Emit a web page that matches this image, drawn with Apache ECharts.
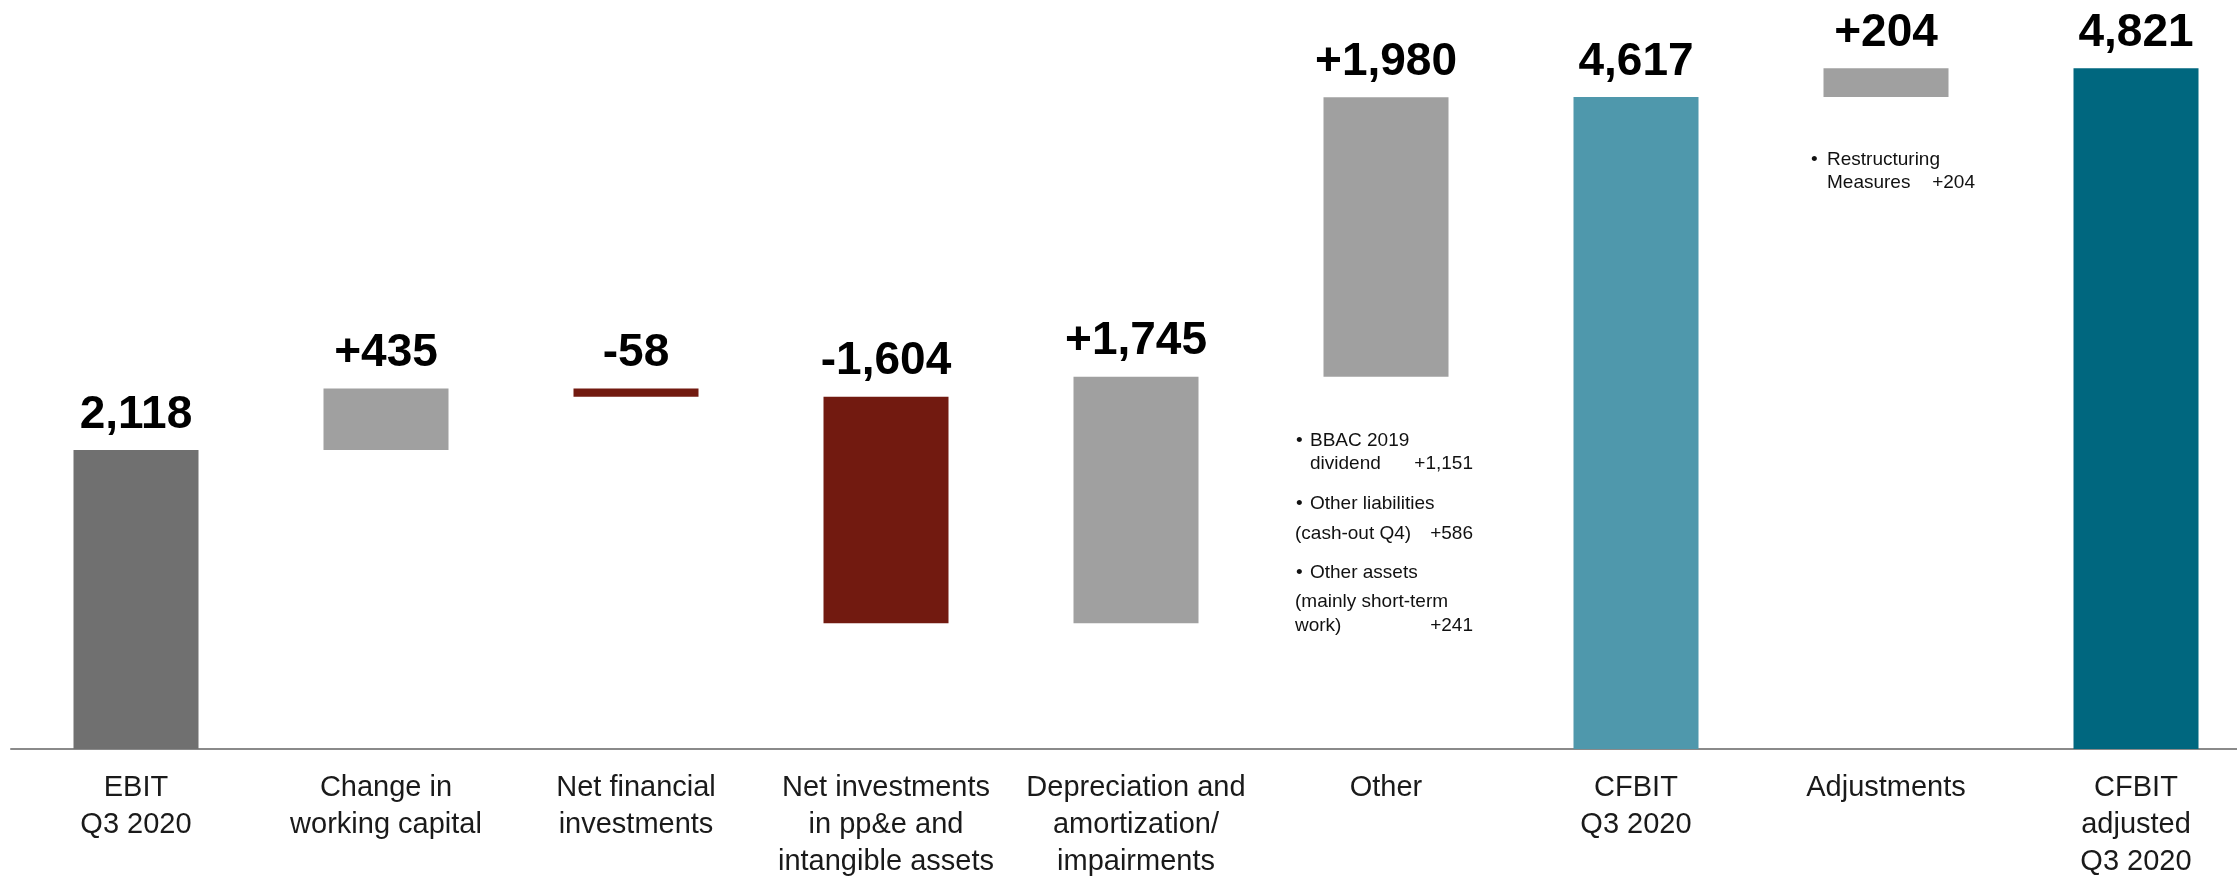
<!DOCTYPE html>
<html>
<head>
<meta charset="utf-8">
<script src="https://cdn.jsdelivr.net/npm/echarts@6/dist/echarts.min.js"></script>
<style>
  html, body { margin: 0; padding: 0; background: #fff; }
  #chart { width: 2237px; height: 876px; }
</style>
</head>
<body>
<div id="chart"></div>
<script>
// Cash flow bridge: EBIT -> CFBIT -> CFBIT adjusted (Q3 2020, in millions)
const categories = [
  'EBIT\nQ3 2020',
  'Change in\nworking capital',
  'Net financial\ninvestments',
  'Net investments\nin pp&e and\nintangible assets',
  'Depreciation and\namortization/\nimpairments',
  'Other',
  'CFBIT\nQ3 2020',
  'Adjustments',
  'CFBIT\nadjusted\nQ3 2020'
];
const values = [2118, 435, -58, -1604, 1745, 1980, 4617, 204, 4821];
// 'total' bars start at zero, 'delta' bars float on the running total
const kinds = ['total', 'delta', 'delta', 'delta', 'delta', 'delta', 'total', 'delta', 'total'];
const totalColors = ['#707070', null, null, null, null, null, '#4f98ac', null, '#00677f'];
const upColor = '#a0a0a0';
const downColor = '#721a10';

// Breakdown notes: [text, amount]
const otherNotes = [
  ['BBAC 2019', ''],
  ['dividend', '+1,151'],
  ['Other liabilities', ''],
  ['(cash-out Q4)', '+586'],
  ['Other assets', ''],
  ['(mainly short-term', ''],
  ['work)', '+241']
];
const otherBullets = [true, false, true, false, true, false, false];
const otherIndent = [true, true, true, false, true, false, false];
const adjustmentNotes = [
  ['Restructuring', ''],
  ['Measures', '+204']
];

function fmt(v) {
  return Math.abs(v).toLocaleString('en-US');
}

const baseData = [];
const barData = [];
let running = 0;
values.forEach((v, i) => {
  if (kinds[i] === 'total') {
    running = v;
    baseData.push(0);
    barData.push({
      value: v,
      itemStyle: { color: totalColors[i] },
      label: { formatter: fmt(v) }
    });
  } else {
    const start = running;
    const end = running + v;
    running = end;
    baseData.push(Math.min(start, end));
    barData.push({
      value: Math.abs(v),
      itemStyle: { color: v >= 0 ? upColor : downColor },
      label: { formatter: (v >= 0 ? '+' : '-') + fmt(v) }
    });
  }
});

const chart = echarts.init(document.getElementById('chart'));

const noteFont = {
  fontFamily: 'Liberation Sans, Arial, sans-serif',
  fontSize: 19,
  fill: '#111',
  verticalAlign: 'middle'
};

// Builds the text blocks of a breakdown note: bullets, descriptions, right-aligned amounts
function noteBlock(notes, bullets, indents, box) {
  const out = [];
  notes.forEach((n, k) => {
    const y = box.ys[k];
    if (bullets[k]) {
      out.push({ type: 'text', x: box.bulletX, y: y,
        style: Object.assign({ text: '•', align: 'left' }, noteFont) });
    }
    out.push({ type: 'text', x: indents[k] ? box.textX : box.outdentX, y: y,
      style: Object.assign({ text: n[0], align: 'left' }, noteFont) });
    if (n[1]) {
      out.push({ type: 'text', x: box.amountX, y: y,
        style: Object.assign({ text: n[1], align: 'right' }, noteFont) });
    }
  });
  return out;
}

chart.setOption({
  animation: false,
  backgroundColor: '#ffffff',
  grid: { left: 11, right: -24, top: 43, bottom: 127, outerBoundsMode: 'none' },
  xAxis: {
    type: 'category',
    data: categories,
    axisLine: { lineStyle: { color: '#8a8a8a', width: 2 } },
    axisTick: { show: false },
    axisLabel: {
      interval: 0,
      margin: 20,
      color: '#1a1a1a',
      fontFamily: 'Liberation Sans, Arial, sans-serif',
      fontSize: 29,
      lineHeight: 37
    }
  },
  yAxis: {
    type: 'value',
    min: 0,
    max: 5000,
    show: false,
    splitLine: { show: false }
  },
  series: [
    {
      type: 'bar',
      stack: 'bridge',
      data: baseData,
      barWidth: 125,
      itemStyle: { color: 'transparent' },
      silent: true
    },
    {
      type: 'bar',
      stack: 'bridge',
      data: barData,
      barWidth: 125,
      label: {
        show: true,
        position: 'top',
        distance: 12,
        color: '#000',
        fontFamily: 'Liberation Sans, Arial, sans-serif',
        fontWeight: 'bold',
        fontSize: 46
      }
    }
  ],
  graphic: [
    ...noteBlock(otherNotes, otherBullets, otherIndent, {
      bulletX: 1296, textX: 1310, outdentX: 1295, amountX: 1473,
      ys: [441, 464, 504, 534, 573, 602, 626]
    }),
    ...noteBlock(adjustmentNotes, [true, false], [true, true], {
      bulletX: 1811, textX: 1827, outdentX: 1827, amountX: 1975,
      ys: [160, 183]
    })
  ]
});
</script>
</body>
</html>
